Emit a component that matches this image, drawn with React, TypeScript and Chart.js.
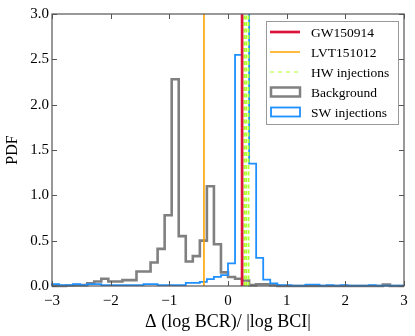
import React, { useEffect, useRef } from "react";
import { Chart, registerables } from "chart.js";

Chart.register(...registerables);

// Histogram bins: 50 bins of width 0.12 from -3 to 3
const binStart = -3;
const binWidth = 0.12;

const backgroundPdf = [
  0, 0, 0.005, 0.01, 0.01, 0.03, 0.05, 0.08, 0.05, 0.05,
  0.065, 0.065, 0.16, 0.16, 0.26, 0.41, 0.78, 2.28, 0.55, 0.27,
  0.33, 0.5, 1.1, 0.46, 0.15, 0.1, 0.08, 0.06, 0.01, 0.02,
  0.02, 0.01, 0, 0, 0, 0, 0, 0, 0, 0,
  0, 0, 0, 0, 0, 0, 0, 0.015, 0, 0,
];

const swInjectionsPdf = [
  0.02, 0.01, 0.01, 0.02, 0.01, 0.02, 0.02, 0.01, 0.01, 0.01,
  0.01, 0.01, 0.01, 0.02, 0.02, 0.01, 0.01, 0.01, 0.01, 0.035,
  0.035, 0.045, 0.075, 0.1, 0.12, 0.25, 2.55, 3.5, 1.35, 0.31,
  0.07, 0.03, 0.01, 0.01, 0.005, 0.005, 0.015, 0.015, 0.005, 0.01,
  0.005, 0.01, 0.005, 0.005, 0.005, 0.01, 0.005, 0.005, 0.005, 0.005,
];

const gw150914 = 0.24;
const lvt151012 = -0.41;
const hwInjections = [0.28, 0.31, 0.35];

const xTicks = [-3, -2, -1, 0, 1, 2, 3];
const yTicks = [0, 0.5, 1.0, 1.5, 2.0, 2.5, 3.0];

const legendLabels = ["GW150914", "LVT151012", "HW injections", "Background", "SW injections"];

const C_GW = "#dc143c";
const C_LVT = "#ffa500";
const C_HW = "#adff2f";
const C_BG = "#808080";
const C_SW = "#1e90ff";

const SERIF = "'Liberation Serif', 'Times New Roman', serif";

function stepPoints(vals: number[]) {
  const pts: { x: number; y: number }[] = [{ x: binStart, y: 0 }];
  vals.forEach((v, i) => {
    const x0 = binStart + i * binWidth;
    pts.push({ x: x0, y: v }, { x: x0 + binWidth, y: v });
  });
  pts.push({ x: binStart + vals.length * binWidth, y: 0 });
  return pts;
}

function vline(x: number) {
  return [
    { x, y: 0 },
    { x, y: 3 },
  ];
}

const frameTicksPlugin = {
  id: "frameTicks",
  afterDatasetsDraw(chart: any) {
    const { ctx, chartArea: a, scales } = chart;
    const xs = scales.x;
    const ys = scales.y;
    ctx.save();
    ctx.strokeStyle = "#555";
    ctx.lineWidth = 1;
    const L = 5;
    ctx.beginPath();
    xTicks.forEach((t) => {
      const px = Math.round(xs.getPixelForValue(t)) + 0.5;
      ctx.moveTo(px, a.bottom);
      ctx.lineTo(px, a.bottom - L);
      ctx.moveTo(px, a.top);
      ctx.lineTo(px, a.top + L);
    });
    yTicks.forEach((t) => {
      const py = Math.round(ys.getPixelForValue(t)) + 0.5;
      ctx.moveTo(a.left, py);
      ctx.lineTo(a.left + L, py);
      ctx.moveTo(a.right, py);
      ctx.lineTo(a.right - L, py);
    });
    ctx.stroke();
    ctx.lineWidth = 1.2;
    ctx.strokeRect(a.left, a.top, a.right - a.left, a.bottom - a.top);
    ctx.restore();
  },
};

const legendPlugin = {
  id: "insideLegend",
  afterDraw(chart: any) {
    const { ctx } = chart;
    const bx = 266;
    const by = 21;
    const bw = 132;
    const bh = 103;
    ctx.save();
    ctx.fillStyle = "#fff";
    ctx.fillRect(bx, by, bw, bh);
    ctx.strokeStyle = "#999";
    ctx.lineWidth = 1;
    ctx.strokeRect(bx + 0.5, by + 0.5, bw, bh);
    const rows = [32, 52, 72, 92, 112];
    const mx0 = 270;
    const mx1 = 300;
    ctx.strokeStyle = C_GW;
    ctx.lineWidth = 2.7;
    ctx.beginPath();
    ctx.moveTo(mx0, rows[0]);
    ctx.lineTo(mx1, rows[0]);
    ctx.stroke();
    ctx.strokeStyle = C_LVT;
    ctx.lineWidth = 1.5;
    ctx.beginPath();
    ctx.moveTo(mx0, rows[1]);
    ctx.lineTo(mx1, rows[1]);
    ctx.stroke();
    ctx.strokeStyle = C_HW;
    ctx.lineWidth = 1.2;
    ctx.setLineDash([4, 4]);
    ctx.beginPath();
    ctx.moveTo(mx0, rows[2]);
    ctx.lineTo(mx1, rows[2]);
    ctx.stroke();
    ctx.setLineDash([]);
    ctx.strokeStyle = C_BG;
    ctx.lineWidth = 2.5;
    ctx.strokeRect(mx0 + 1, rows[3] - 4.5, mx1 - mx0 - 1, 9);
    ctx.strokeStyle = C_SW;
    ctx.lineWidth = 1.8;
    ctx.strokeRect(mx0 + 1, rows[4] - 4.5, mx1 - mx0 - 1, 9);
    ctx.fillStyle = "#000";
    ctx.font = "13.5px " + SERIF;
    ctx.textBaseline = "middle";
    legendLabels.forEach((lab, i) => {
      ctx.fillText(lab, 311, rows[i] + 1);
    });
    ctx.restore();
  },
};

export default function App() {
  const ref = useRef<HTMLCanvasElement | null>(null);
  useEffect(() => {
    if (!ref.current) return;
    const clip = { left: 2, right: 2, top: 0, bottom: 2 };
    const datasets: any[] = [
      {
        label: "Background",
        data: stepPoints(backgroundPdf),
        borderColor: C_BG,
        borderWidth: 2.6,
        showLine: true,
        pointRadius: 0,
        fill: false,
        order: 6,
        clip,
        borderJoinStyle: "miter",
      },
      {
        label: "SW injections",
        data: stepPoints(swInjectionsPdf),
        borderColor: C_SW,
        borderWidth: 1.8,
        showLine: true,
        pointRadius: 0,
        fill: false,
        order: 5,
        clip,
        borderJoinStyle: "miter",
      },
      ...hwInjections.map((x) => ({
        label: "HW injections",
        data: vline(x),
        borderColor: C_HW,
        borderWidth: 1.8,
        borderDash: [4, 2.5],
        showLine: true,
        pointRadius: 0,
        fill: false,
        order: 3,
        clip,
      })),
      {
        label: "LVT151012",
        data: vline(lvt151012),
        borderColor: C_LVT,
        borderWidth: 1.6,
        showLine: true,
        pointRadius: 0,
        fill: false,
        order: 2,
        clip,
      },
      {
        label: "GW150914",
        data: vline(gw150914),
        borderColor: C_GW,
        borderWidth: 2.7,
        showLine: true,
        pointRadius: 0,
        fill: false,
        order: 1,
        clip,
      },
    ];
    const chart = new Chart(ref.current, {
      type: "scatter",
      data: { datasets },
      options: {
        animation: false,
        responsive: false,
        maintainAspectRatio: false,
        layout: { padding: { top: 14, right: 11, left: 0, bottom: 0 } },
        plugins: { legend: { display: false }, tooltip: { enabled: false } },
        scales: {
          x: {
            type: "linear",
            min: -3,
            max: 3,
            afterFit: (s: any) => {
              s.height = 50;
            },
            afterBuildTicks: (s: any) => {
              s.ticks = xTicks.map((v) => ({ value: v }));
            },
            grid: { display: false, drawTicks: false },
            border: { display: false },
            ticks: {
              color: "#000",
              padding: 6,
              font: { family: SERIF, size: 15 },
              callback: (v: any) => (Number(v) < 0 ? "\u2212" + Math.abs(Number(v)) : String(v)),
            },
            title: {
              display: true,
              text: "\u0394 (log BCR)/ |log BCI|",
              color: "#000",
              font: { family: SERIF, size: 18 },
              padding: { top: 0, bottom: 3 },
            },
          },
          y: {
            type: "linear",
            min: 0,
            max: 3,
            afterFit: (s: any) => {
              s.width = 52;
            },
            afterBuildTicks: (s: any) => {
              s.ticks = yTicks.map((v) => ({ value: v }));
            },
            grid: { display: false, drawTicks: false },
            border: { display: false },
            ticks: {
              color: "#000",
              padding: 3,
              font: { family: SERIF, size: 15 },
              callback: (v: any) => Number(v).toFixed(1),
            },
            title: {
              display: true,
              text: "PDF",
              color: "#000",
              font: { family: SERIF, size: 16 },
              padding: { top: 3, bottom: 0 },
            },
          },
        },
      },
      plugins: [frameTicksPlugin, legendPlugin],
    });
    return () => chart.destroy();
  }, []);
  return (
    <div style={{ position: "absolute", left: 0, top: 0, width: 415, height: 336 }}>
      <canvas ref={ref} width={415} height={336} />
    </div>
  );
}
